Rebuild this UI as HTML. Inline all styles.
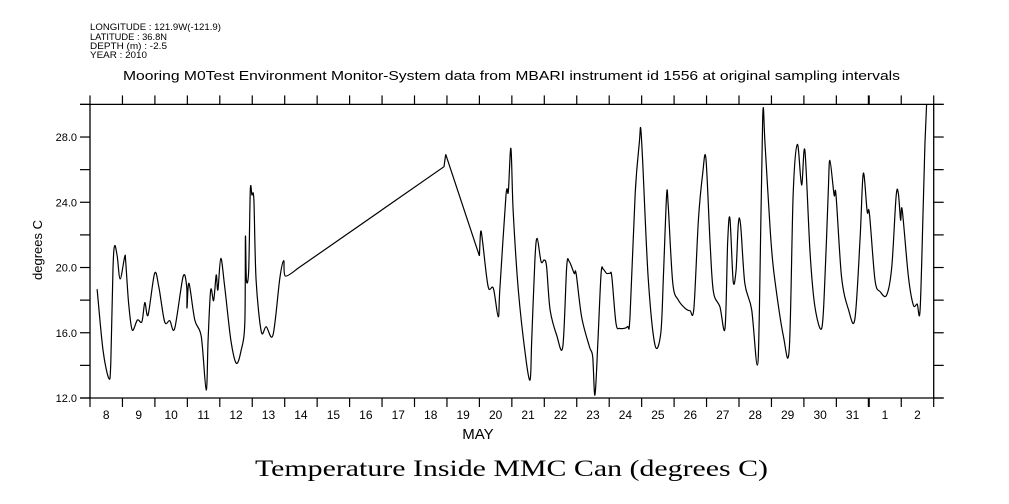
<!DOCTYPE html>
<html><head><meta charset="utf-8"><style>
body{margin:0;background:#fff;width:1009px;height:504px;overflow:hidden}
svg{display:block}
text{font-family:"Liberation Sans",sans-serif;fill:#000}
</style></head><body>
<svg id="chart" width="1009" height="504" viewBox="0 0 1009 504">
<g font-size="9">
<text x="90" y="30" textLength="131" lengthAdjust="spacingAndGlyphs">LONGITUDE : 121.9W(-121.9)</text>
<text x="90" y="40" textLength="77" lengthAdjust="spacingAndGlyphs">LATITUDE : 36.8N</text>
<text x="90" y="49" textLength="77" lengthAdjust="spacingAndGlyphs">DEPTH (m) : -2.5</text>
<text x="90" y="58" textLength="57" lengthAdjust="spacingAndGlyphs">YEAR : 2010</text>
</g>
<text x="123" y="80" font-size="13" textLength="777" lengthAdjust="spacingAndGlyphs">Mooring M0Test Environment Monitor-System data from MBARI instrument id 1556 at original sampling intervals</text>
<text x="478" y="439" font-size="15" text-anchor="middle">MAY</text>
<text x="42" y="250" font-size="13" text-anchor="middle" transform="rotate(-90 42 250)">degrees C</text>
<text x="255" y="476" font-size="23" textLength="513" lengthAdjust="spacingAndGlyphs" style="font-family:'Liberation Serif',serif">Temperature Inside MMC Can (degrees C)</text>
<g id="axes"></g>
<g id="series"></g>
</svg>
<script>
const days=[0.22,0.40,0.58,0.64,0.71,0.76,0.84,0.93,1.07,1.10,1.19,1.30,1.46,1.60,1.69,1.79,1.99,2.12,2.30,2.46,2.61,2.87,2.98,2.99,3.05,3.23,3.43,3.58,3.64,3.72,3.81,3.89,3.94,4.03,4.15,4.34,4.51,4.66,4.77,4.79,4.82,4.89,4.94,4.99,5.05,5.12,5.28,5.43,5.64,5.85,5.97,6.02,6.41,10.91,10.96,12.00,12.04,12.10,12.27,12.43,12.58,12.63,12.82,12.89,12.97,13.04,13.20,13.41,13.56,13.61,13.71,13.78,13.90,14.00,14.07,14.18,14.38,14.57,14.69,14.77,14.92,14.98,15.15,15.39,15.49,15.56,15.65,15.75,15.82,15.92,16.02,16.08,16.21,16.33,16.56,16.64,16.80,16.93,16.97,17.03,17.20,17.41,17.59,17.67,17.77,17.82,17.96,18.13,18.34,18.49,18.61,18.75,18.88,18.98,19.11,19.21,19.41,19.57,19.65,19.72,19.82,19.91,19.98,20.05,20.18,20.39,20.56,20.63,20.73,20.80,20.96,21.08,21.37,21.55,21.67,21.80,21.93,22.03,22.19,22.34,22.55,22.65,22.75,22.80,22.93,22.99,23.16,23.37,23.57,23.73,23.83,23.95,24.02,24.19,24.35,24.55,24.71,24.84,24.91,24.98,25.03,25.22,25.37,25.49,25.58,25.68,25.73,25.78];
const temps=[18.67,14.94,13.21,14.15,19.97,21.34,20.66,19.30,20.66,20.36,17.81,16.17,16.78,16.68,17.85,17.09,19.64,18.82,16.68,16.74,16.27,19.44,18.82,17.52,19.03,16.78,15.76,12.49,15.56,18.62,17.97,19.54,18.62,20.56,18.82,15.56,14.13,14.94,16.58,21.89,19.23,19.85,24.75,24.45,24.14,19.23,16.07,16.37,15.86,19.33,20.42,19.48,19.95,26.18,26.94,20.71,22.2,21.58,18.82,18.72,16.98,18.62,24.45,24.65,27.3,23.53,18.62,14.74,13.1,15.35,20.46,21.79,20.36,20.46,20.05,17.4,15.86,15.15,20.05,20.36,19.64,19.64,16.98,15.15,14.53,12.18,15.35,19.64,19.88,19.64,19.64,19.44,16.58,16.27,16.37,16.98,24.55,27.71,28.54,26.59,19.44,15.25,15.97,19.44,24.45,23.73,19.03,18.01,17.5,17.35,17.5,22.91,25.77,26.69,21.48,18.52,17.6,16.27,21.48,23.02,19.15,19.85,22.71,22.6,19.03,17.4,14.02,17.4,29.21,27.61,22.3,19.64,15.76,15.05,24.55,27.55,25.06,27.17,20.87,17.6,16.27,19.44,24.55,26.57,24.45,24.45,19.44,17.44,16.82,21.69,25.77,23.42,23.32,19.23,18.52,18.31,20.05,24.35,24.55,22.91,23.53,19.44,17.7,17.76,17.4,23.93,27.51,30.0];
const dayLabels=["8","9","10","11","12","13","14","15","16","17","18","19","20","21","22","23","24","25","26","27","28","29","30","31","1","2"];
const yTicks=[12,14,16,18,20,22,24,26,28,30];
const yLabels=[12,16,20,24,28];

const L=90,R=933.7,T=104.4,B=398,D0=0,D1=26,Y0=12,Y1=30;
const xs=d=>L+(d-D0)/(D1-D0)*(R-L);
const ys=v=>B-(v-Y0)/(Y1-Y0)*(B-T);
const NS="http://www.w3.org/2000/svg";
const ax=document.getElementById('axes');
function line(x1,y1,x2,y2,w,name){const l=document.createElementNS(NS,'line');l.setAttribute('x1',x1);l.setAttribute('y1',y1);l.setAttribute('x2',x2);l.setAttribute('y2',y2);l.setAttribute('stroke','#000');l.setAttribute('stroke-width',w||1);


ax.appendChild(l);return l;}
line(L-10,T,R+10,T,1.3,'top-axis');
line(L-10,B,R+10,B,1.3,'bottom-axis');
line(L,T,L,B,1.3,'left-axis');
line(R,T,R,B,1.3,'right-axis');
for(let i=0;i<=26;i++){const x=xs(i);const w=(i===24)?2:1.2;
line(x,B,x,B+9,w,'x-tick-bottom');
line(x,T-9,x,T,w,'x-tick-top');}
dayLabels.forEach((s,i)=>{const t=document.createElementNS(NS,'text');t.setAttribute('x',xs(i+0.5));t.setAttribute('y',B+21);t.setAttribute('font-size','12');t.setAttribute('text-anchor','middle');t.textContent=s;


ax.appendChild(t);});
yTicks.forEach(v=>{const y=ys(v);
line(L-10,y,L,y,1.2,'y-tick-left');
line(R,y,R+10,y,1.2,'y-tick-right');});
yLabels.forEach(v=>{const t=document.createElementNS(NS,'text');t.setAttribute('x',L-13);t.setAttribute('y',ys(v)+4);t.setAttribute('font-size','11');t.setAttribute('text-anchor','end');t.textContent=v.toFixed(1);


ax.appendChild(t);});
// smoothed path (Catmull-Rom), straight across data gaps
const P=days.map((d,i)=>[xs(d),ys(temps[i])]);
let dstr='M'+P[0][0].toFixed(1)+','+P[0][1].toFixed(1);
for(let i=0;i<P.length-1;i++){
  if(days[i+1]-days[i]>1){dstr+=' L'+P[i+1][0].toFixed(1)+','+P[i+1][1].toFixed(1);continue;}
  const p0=P[i>0&&days[i]-days[i-1]<=1?i-1:i],p1=P[i],p2=P[i+1],p3=P[i+2<P.length&&days[i+2]-days[i+1]<=1?i+2:i+1];
  const k=0.16;
  const c1=[p1[0]+(p2[0]-p0[0])*k,p1[1]+(p2[1]-p0[1])*k];
  const c2=[p2[0]-(p3[0]-p1[0])*k,p2[1]-(p3[1]-p1[1])*k];
  dstr+=' C'+c1[0].toFixed(1)+','+c1[1].toFixed(1)+' '+c2[0].toFixed(1)+','+c2[1].toFixed(1)+' '+p2[0].toFixed(1)+','+p2[1].toFixed(1);
}
const p=document.createElementNS(NS,'path');
p.setAttribute('d',dstr);
p.setAttribute('fill','none');p.setAttribute('stroke','#000');p.setAttribute('stroke-width','1.2');


document.getElementById('series').appendChild(p);
</script>
</body></html>
